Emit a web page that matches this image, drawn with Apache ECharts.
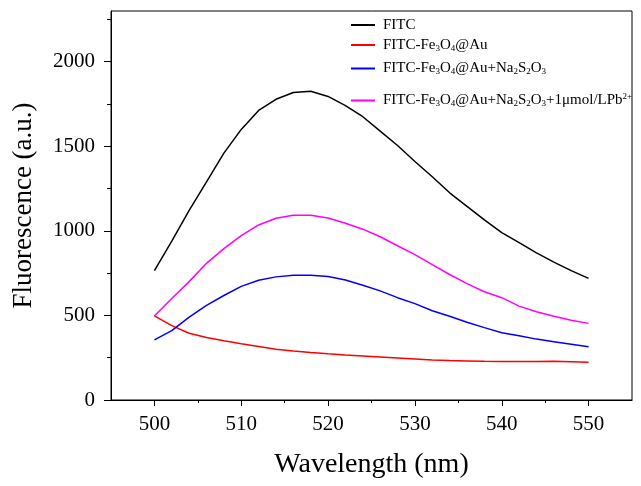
<!DOCTYPE html>
<html>
<head>
<meta charset="utf-8">
<script src="https://cdn.jsdelivr.net/npm/echarts@6/dist/echarts.min.js"></script>
<style>
  html, body { margin: 0; padding: 0; background: #fff; }
  #fluoChart { width: 641px; height: 486px; }
</style>
</head>
<body>
<div id="fluoChart"></div>
<script>
// wavelength (nm)
var wavelength = [500, 502, 504, 506, 508, 510, 512, 514, 516, 518, 520, 522, 524,
                  526, 528, 530, 532, 534, 536, 538, 540, 542, 544, 546, 548, 550];

// fluorescence (a.u.)
var fitc = [765, 940, 1121, 1290, 1460, 1600, 1712, 1778, 1818, 1825, 1795, 1740, 1675,
            1590, 1505, 1410, 1320, 1225, 1145, 1065, 990, 930, 870, 815, 765, 719];
var fitcFeAu = [497, 440, 395, 370, 350, 332, 316, 300, 290, 281, 273, 266, 260,
                254, 248, 242, 236, 233, 231, 229, 228, 227, 228, 229, 226, 223];
var fitcFeAuNa = [355, 410, 490, 560, 618, 672, 708, 728, 738, 738, 730, 710, 678,
                  645, 605, 570, 528, 495, 460, 428, 398, 380, 360, 345, 330, 315];
var fitcFeAuNaPb = [497, 600, 700, 808, 895, 972, 1035, 1075, 1092, 1092, 1076, 1045, 1010,
                    965, 912, 860, 800, 742, 688, 640, 605, 555, 522, 495, 472, 453];

var xTicks = [500, 510, 520, 530, 540, 550];
var yTicks = [0, 500, 1000, 1500, 2000];

var seriesNames = ['FITC', 'FITC-Fe3O4@Au', 'FITC-Fe3O4@Au+Na2S2O3', 'FITC-Fe3O4@Au+Na2S2O3+1μmol/LPb2+'];
var seriesColors = ['#000000', '#ff0000', '#0000ff', '#ff00ff'];
var seriesValues = [fitc, fitcFeAu, fitcFeAuNa, fitcFeAuNaPb];

// legend text with sub/superscripts
var legendRich = {};
legendRich[seriesNames[0]] = '{n|FITC}';
legendRich[seriesNames[1]] = '{n|FITC-Fe}{s|3}{n|O}{s|4}{n|@Au}';
legendRich[seriesNames[2]] = '{n|FITC-Fe}{s|3}{n|O}{s|4}{n|@Au+Na}{s|2}{n|S}{s|2}{n|O}{s|3}';
legendRich[seriesNames[3]] = '{n|FITC-Fe}{s|3}{n|O}{s|4}{n|@Au+Na}{s|2}{n|S}{s|2}{n|O}{s|3}{n|+1μmol/LPb}{p|2+}';
var legendLineHeights = [16, 20, 23, 37];

var serifFont = "'Liberation Serif', 'Times New Roman', serif";

function pairs(xs, ys) {
    return xs.map(function (x, i) { return [x, ys[i]]; });
}

var fluoChart = echarts.init(document.getElementById('fluoChart'));
fluoChart.setOption({
    animation: false,
    textStyle: { fontFamily: serifFont, color: '#000' },
    grid: {
        left: 111, right: 9, top: 11, bottom: 86,
        show: true, borderColor: '#000', borderWidth: 1,
        outerBoundsMode: 'none'
    },
    legend: {
        orient: 'vertical',
        left: 346,
        top: 12,
        itemGap: 2,
        itemWidth: 24,
        itemHeight: 2,
        icon: 'rect',
        data: seriesNames.map(function (n, i) {
            return { name: n, textStyle: { lineHeight: legendLineHeights[i] } };
        }),
        formatter: function (name) { return legendRich[name]; },
        textStyle: {
            padding: [0, 0, 0, 3],
            rich: {
                n: { fontSize: 15, fontFamily: serifFont, color: '#000' },
                s: { fontSize: 9, fontFamily: serifFont, color: '#000', padding: [7, 0, 0, 0] },
                p: { fontSize: 9, fontFamily: serifFont, color: '#000', padding: [0, 0, 7, 0] }
            }
        }
    },
    xAxis: {
        type: 'value',
        min: 495,
        max: 555,
        name: 'Wavelength (nm)',
        nameLocation: 'middle',
        nameGap: 51,
        nameTextStyle: { fontSize: 28, fontFamily: serifFont, color: '#000' },
        axisLine: { lineStyle: { color: '#000', width: 1 } },
        axisTick: { inside: false, length: 6, customValues: xTicks, lineStyle: { color: '#000' } },
        minorTick: { show: true, splitNumber: 2, length: 3, lineStyle: { color: '#000' } },
        axisLabel: { customValues: xTicks, margin: 14, fontSize: 21, color: '#000', fontFamily: serifFont },
        splitLine: { show: false }
    },
    yAxis: {
        type: 'value',
        min: 0,
        max: 2300,
        interval: 500,
        name: 'Fluorescence (a.u.)',
        nameLocation: 'middle',
        nameGap: 74,
        nameTextStyle: { fontSize: 27, fontFamily: serifFont, color: '#000' },
        axisLine: { show: true, lineStyle: { color: '#000', width: 1 } },
        axisTick: { show: true, inside: false, length: 7, customValues: yTicks, lineStyle: { color: '#000' } },
        minorTick: { show: true, splitNumber: 2, length: 4, lineStyle: { color: '#000' } },
        axisLabel: {
            customValues: yTicks, margin: 16, fontSize: 21, color: '#000', fontFamily: serifFont,
            formatter: function (v) { return String(v); }
        },
        splitLine: { show: false }
    },
    series: seriesNames.map(function (n, i) {
        return {
            name: n,
            type: 'line',
            data: pairs(wavelength, seriesValues[i]),
            symbol: 'none',
            color: seriesColors[i],
            lineStyle: { color: seriesColors[i], width: 1.5 }
        };
    })
});
window.addEventListener('resize', function () {
    fluoChart.resize();
});
</script>
</body>
</html>
